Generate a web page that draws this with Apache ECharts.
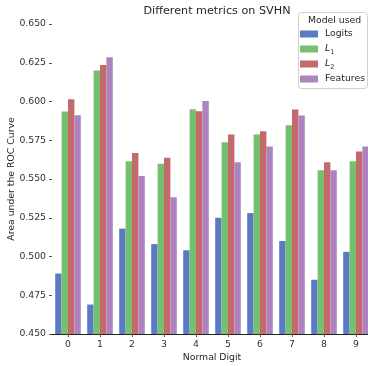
<!DOCTYPE html>
<html>
<head>
<meta charset="utf-8">
<script src="https://cdn.jsdelivr.net/npm/echarts@6/dist/echarts.min.js"></script>
<style>
html,body{margin:0;padding:0;background:#fff;}
#chart{width:368px;height:366px;}
</style>
</head>
<body>
<div id="chart"></div>
<script>
const categories = ['0','1','2','3','4','5','6','7','8','9'];
const seriesNames = ['Logits','L1','L2','Features'];
const logits   = [0.489, 0.469, 0.518, 0.508, 0.504, 0.525, 0.528, 0.510, 0.485, 0.503];
const l1       = [0.5935, 0.620, 0.5615, 0.5598, 0.595, 0.5737, 0.5787, 0.5847, 0.5557, 0.5615];
const l2       = [0.6015, 0.6235, 0.5668, 0.5637, 0.5937, 0.5787, 0.5808, 0.5948, 0.5608, 0.5677];
const features = [0.5912, 0.6286, 0.5519, 0.5382, 0.6004, 0.5608, 0.5709, 0.591, 0.5557, 0.5709];
const yTicks = {min: 0.45, max: 0.65, interval: 0.025};
const colors = ['#5a7bc2', '#76c070', '#c46a6a', '#ad83c0'];

const values = [logits, l1, l2, features];
const font = 'DejaVu Sans';
const fs = 9.3;

const chart = echarts.init(document.getElementById('chart'), null, {renderer: 'canvas'});
chart.setOption({
  animation: false,
  backgroundColor: '#fff',
  color: colors,
  title: {
    text: 'Different metrics on SVHN',
    left: 212, top: 1, textAlign: 'center',
    textStyle: {fontFamily: font, fontSize: 11.2, fontWeight: 'normal', color: '#262626'}
  },
  grid: {left: 52, right: -4, top: 24, bottom: 32, outerBoundsMode: 'none', containLabel: false},
  xAxis: {
    type: 'category',
    data: categories,
    name: 'Normal Digit',
    nameLocation: 'middle',
    nameGap: 19,
    nameMoveOverlap: false,
    nameTextStyle: {fontFamily: font, fontSize: fs, color: '#262626'},
    axisLine: {show: true, lineStyle: {color: '#262626', width: 1}},
    axisTick: {show: true, alignWithLabel: true, length: 3, lineStyle: {color: '#555'}},
    axisLabel: {fontFamily: font, fontSize: fs, color: '#333', margin: 6},
    splitLine: {show: false}
  },
  yAxis: {
    type: 'value',
    min: yTicks.min, max: yTicks.max, interval: yTicks.interval,
    name: 'Area under the ROC Curve',
    nameLocation: 'middle',
    nameGap: 36,
    nameMoveOverlap: false,
    nameTextStyle: {fontFamily: font, fontSize: fs, color: '#262626'},
    axisLine: {show: false},
    axisTick: {show: true, length: 3, lineStyle: {color: '#555'}},
    axisLabel: {fontFamily: font, fontSize: fs, color: '#333', margin: 6,
      formatter: v => v.toFixed(3)},
    splitLine: {show: false}
  },
  legend: {
    orient: 'vertical',
    left: 300, top: 27,
    padding: 0,
    itemWidth: 18, itemHeight: 7,
    itemGap: 1,
    icon: 'rect',
    data: seriesNames,
    formatter: n => n === 'L1' ? '{i|L}{s|1}' : (n === 'L2' ? '{i|L}{s|2}' : '{n|' + n + '}'),
    textStyle: {
      fontFamily: font, fontSize: fs, color: '#262626', lineHeight: 14,
      rich: {
        n: {fontFamily: font, fontSize: fs, color: '#262626', lineHeight: 14, padding: [0, 0, 0, 2]},
        i: {fontFamily: font, fontSize: fs, fontStyle: 'italic', color: '#262626', lineHeight: 14, padding: [0, 0, 0, 2]},
        s: {fontFamily: font, fontSize: 6.5, color: '#262626', lineHeight: 14, verticalAlign: 'bottom', padding: [3, 0, 0, 0]}
      }
    }
  },
  graphic: [
    {type: 'rect', left: 298, top: 12, z: -1,
     shape: {width: 69, height: 76, r: 3},
     style: {fill: '#fff', stroke: '#d0d0d0', lineWidth: 1}},
    {type: 'text', left: 308, top: 16,
     style: {text: 'Model used', fontFamily: font, fontSize: fs, fill: '#262626'}}
  ],
  series: seriesNames.map((name, i) => ({
    name: name,
    type: 'bar',
    data: values[i],
    barGap: '0%',
    barCategoryGap: '20%',
    itemStyle: {color: colors[i]}
  }))
});
</script>
</body>
</html>
